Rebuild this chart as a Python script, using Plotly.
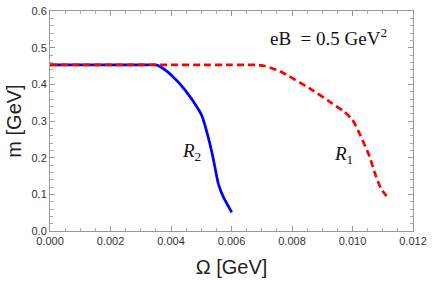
import plotly.graph_objects as go

# R2 (blue, solid)
omega_r2 = [0.0, 0.001, 0.002, 0.003, 0.0035, 0.00365, 0.00404, 0.00448, 0.00492, 0.00503, 0.00519, 0.00535, 0.00546, 0.00557, 0.00574, 0.00601]
m_r2 = [0.453, 0.453, 0.453, 0.453, 0.453, 0.448, 0.423, 0.383, 0.330, 0.312, 0.268, 0.215, 0.171, 0.127, 0.091, 0.051]

# R1 (red, dashed)
omega_r1 = [0.0, 0.001, 0.002, 0.003, 0.004, 0.005, 0.006, 0.0065, 0.0068, 0.0071, 0.0076, 0.0087, 0.00918, 0.00973, 0.0100, 0.01027, 0.01055, 0.01076, 0.01093, 0.0112]
m_r1 = [0.453, 0.453, 0.453, 0.453, 0.453, 0.453, 0.453, 0.453, 0.453, 0.450, 0.436, 0.383, 0.356, 0.325, 0.303, 0.259, 0.206, 0.153, 0.1175, 0.087]

fig = go.Figure()
fig.add_trace(go.Scatter(x=omega_r2, y=m_r2, mode="lines",
                         line=dict(color="#0000ff", width=2.7, shape="spline", smoothing=0.5), showlegend=False))
fig.add_trace(go.Scatter(x=omega_r1, y=m_r1, mode="lines",
                         line=dict(color="#ff0000", width=2.7, dash="7px,4px", shape="spline", smoothing=0.5), showlegend=False))

axis_common = dict(showgrid=False, zeroline=False, showline=True, linecolor="#999999", linewidth=1,
                   mirror="allticks", ticks="inside", ticklen=5, tickcolor="#999999",
                   ticklabeloverflow="allow",
                   tickfont=dict(family="Liberation Sans, Arial", size=11, color="#333333"))

fig.update_xaxes(range=[0, 0.012], dtick=0.002, tickformat=".3f",
                 minor=dict(dtick=0.0005, ticks="inside", ticklen=3, tickcolor="#aaaaaa"),
                 title=dict(text="Ω [GeV]", font=dict(family="Liberation Sans, Arial", size=20, color="#222222"), standoff=13),
                 **axis_common)
fig.update_yaxes(range=[0, 0.6], dtick=0.1, tickformat=".1f",
                 minor=dict(dtick=0.02, ticks="inside", ticklen=3, tickcolor="#aaaaaa"),
                 title=dict(text="m [GeV]", font=dict(family="Liberation Sans, Arial", size=20, color="#222222"), standoff=4),
                 **axis_common)

fig.add_annotation(x=0.00921, y=0.528, xref="x", yref="y", showarrow=False,
                   text="eB  = 0.5 GeV<sup>2</sup>",
                   font=dict(family="Liberation Serif, Times New Roman", size=19, color="#111111"))
fig.add_annotation(x=0.00469, y=0.215, xref="x", yref="y", showarrow=False,
                   text="<i>R</i><sub>2</sub>",
                   font=dict(family="Liberation Serif, Times New Roman", size=19, color="#111111"))
fig.add_annotation(x=0.0097, y=0.207, xref="x", yref="y", showarrow=False,
                   text="<i>R</i><sub>1</sub>",
                   font=dict(family="Liberation Serif, Times New Roman", size=19, color="#111111"))

fig.update_layout(width=432, height=281, margin=dict(l=50, r=16, t=5, b=50),
                  paper_bgcolor="white", plot_bgcolor="white")

fig.write_html("out.html", config={"displayModeBar": False},
               post_script="document.body.style.margin='0';")
